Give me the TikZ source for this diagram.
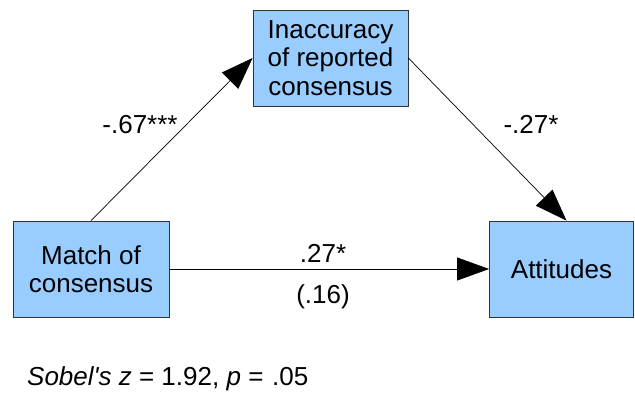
\documentclass[tikz,border=0pt]{standalone}
\usepackage{fontspec}
\setmainfont{Liberation Sans}
\usetikzlibrary{arrows.meta}
\definecolor{boxblue}{HTML}{99CCFF}
\tikzset{
  varbox/.style={draw=black!80, fill=boxblue, line width=0.8pt, align=center, inner sep=0pt},
  path/.style={draw=black, line width=0.7pt, -{Triangle[length=32pt,width=23pt]}},
  coef/.style={inner sep=0pt}
}
\begin{document}
\begin{tikzpicture}[x=1pt, y=-1pt, font=\fontsize{26}{28.5}\selectfont]
	\useasboundingbox (0,0) rectangle (635,396);
	% variables
	\node[varbox, minimum width=155pt, minimum height=96pt] (inacc) at (330.5,58) {Inaccuracy\\of reported\\consensus};
	\node[varbox, minimum width=156pt, minimum height=96pt] (match) at (91,269) {Match of\\consensus};
	\node[varbox, minimum width=144pt, minimum height=96pt] (att) at (561.5,269) {Attitudes};
	% paths
	\draw[path] (match.north) -- (inacc.west);
	\draw[path] (inacc.east) -- ([xshift=5pt]att.north);
	\draw[path] (match.east) -- (att.west);
	% coefficients
	\node[coef] (a) at (140,125) {-.67***};
	\node[coef] (b) at (531,124) {-.27*};
	\node[coef] (c) at (323,253) {.27*};
	\node[coef] (cp) at (323,297) {(.16)};
	\node[coef, anchor=west] (sobel) at (27,379) {\textit{Sobel\textquotesingle s z} = 1.92, \textit{p} =\,\,.05};
\end{tikzpicture}
\end{document}
